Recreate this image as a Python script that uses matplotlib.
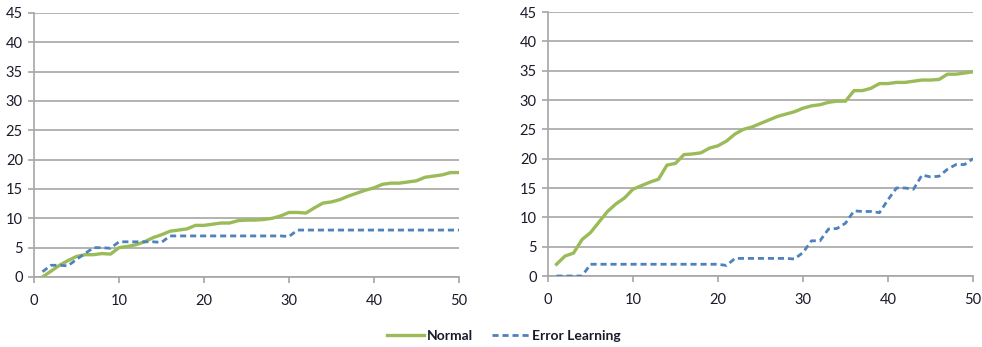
import matplotlib
matplotlib.use("Agg")
import matplotlib.pyplot as plt

x = list(range(1, 51))

left_normal = [0, 1, 2, 2.8, 3.5, 3.8, 3.8, 4, 3.9, 5,
               5.2, 5.5, 6, 6.7, 7.2, 7.8, 8, 8.2, 8.8, 8.8,
               9, 9.2, 9.2, 9.6, 9.7, 9.7, 9.8, 10, 10.4, 11,
               11, 10.9, 11.8, 12.6, 12.8, 13.2, 13.8, 14.3, 14.8, 15.2,
               15.8, 16, 16, 16.2, 16.4, 17, 17.2, 17.4, 17.8, 17.8]
left_error = [0.9, 2, 2, 1.9, 3, 4, 5, 5, 4.9, 6,
              6, 6, 6, 6, 5.9, 7, 7, 7, 7, 7,
              7, 7, 7, 7, 7, 7, 7, 7, 7, 6.9,
              8, 8, 8, 8, 8, 8, 8, 8, 8, 8,
              8, 8, 8, 8, 8, 8, 8, 8, 8, 8]

right_normal = [2, 3.4, 3.9, 6.2, 7.4, 9.2, 11, 12.3, 13.3, 14.8,
                15.4, 16, 16.5, 18.9, 19.2, 20.7, 20.8, 21, 21.8, 22.2,
                23, 24.2, 25, 25.4, 26, 26.6, 27.2, 27.6, 28, 28.6,
                29, 29.2, 29.6, 29.8, 29.8, 31.6, 31.6, 32, 32.8, 32.8,
                33, 33, 33.2, 33.4, 33.4, 33.5, 34.4, 34.4, 34.6, 34.8]
right_error = [0, 0, 0, 0, 2, 2, 2, 2, 2, 2,
               2, 2, 2, 2, 2, 2, 2, 2, 2, 2,
               1.8, 3, 3, 3, 3, 3, 3, 3, 2.9, 4,
               6, 6, 8, 8.1, 9, 11.1, 11, 11, 10.8, 13,
               15, 15, 14.8, 17.2, 16.9, 17, 18.2, 19, 19, 20]

x_ticks = [0, 10, 20, 30, 40, 50]
y_ticks = [0, 5, 10, 15, 20, 25, 30, 35, 40, 45]

GREEN = "#9BBB59"
BLUE = "#4F81BD"
GRID = "#A6A6A6"
TEXT = "#1A1A2A"
FONT = "Lato"

fig = plt.figure(figsize=(9.82, 3.47), dpi=100)
ax1 = fig.add_axes([34/982, 1-277/347, 425/982, 264/347])
ax2 = fig.add_axes([548/982, 1-276/347, 425/982, 264/347])

for ax, n, e in [(ax1, left_normal, left_error), (ax2, right_normal, right_error)]:
    ln1, = ax.plot(x, n, color=GREEN, lw=2.4, solid_joinstyle="round", label="Normal", zorder=3)
    ln2, = ax.plot(x, e, color=BLUE, lw=2.0, linestyle=(0, (2.2, 1.4)), label="Error Learning", zorder=3)
    ax.set_xlim(0, 50)
    ax.set_ylim(0, 45)
    ax.set_xticks(x_ticks)
    ax.set_yticks(y_ticks)
    ax.yaxis.grid(True, color=GRID, lw=1.2)
    ax.set_axisbelow(True)
    for s in ["top", "right"]:
        ax.spines[s].set_visible(False)
    for s in ["left", "bottom"]:
        ax.spines[s].set_color(GRID)
        ax.spines[s].set_linewidth(1.2)
    ax.tick_params(axis="both", colors=GRID, length=4, width=1.2, labelcolor=TEXT,
                   labelsize=10.5)
    ax.tick_params(axis="x", pad=8)
    ax.tick_params(axis="y", pad=4)
    for lab in ax.get_xticklabels() + ax.get_yticklabels():
        lab.set_family(FONT)

handles = [ln1, ln2]
fig.legend(handles, ["Normal", "Error Learning"], loc="center", bbox_to_anchor=(503.5/982, 1-336/347),
           ncol=2, frameon=False,
           prop={"family": FONT, "size": 10, "weight": "bold"},
           labelcolor=TEXT,
           handlelength=2.66, columnspacing=1.37, handletextpad=0.22)

fig.savefig("out.png", dpi=100)
